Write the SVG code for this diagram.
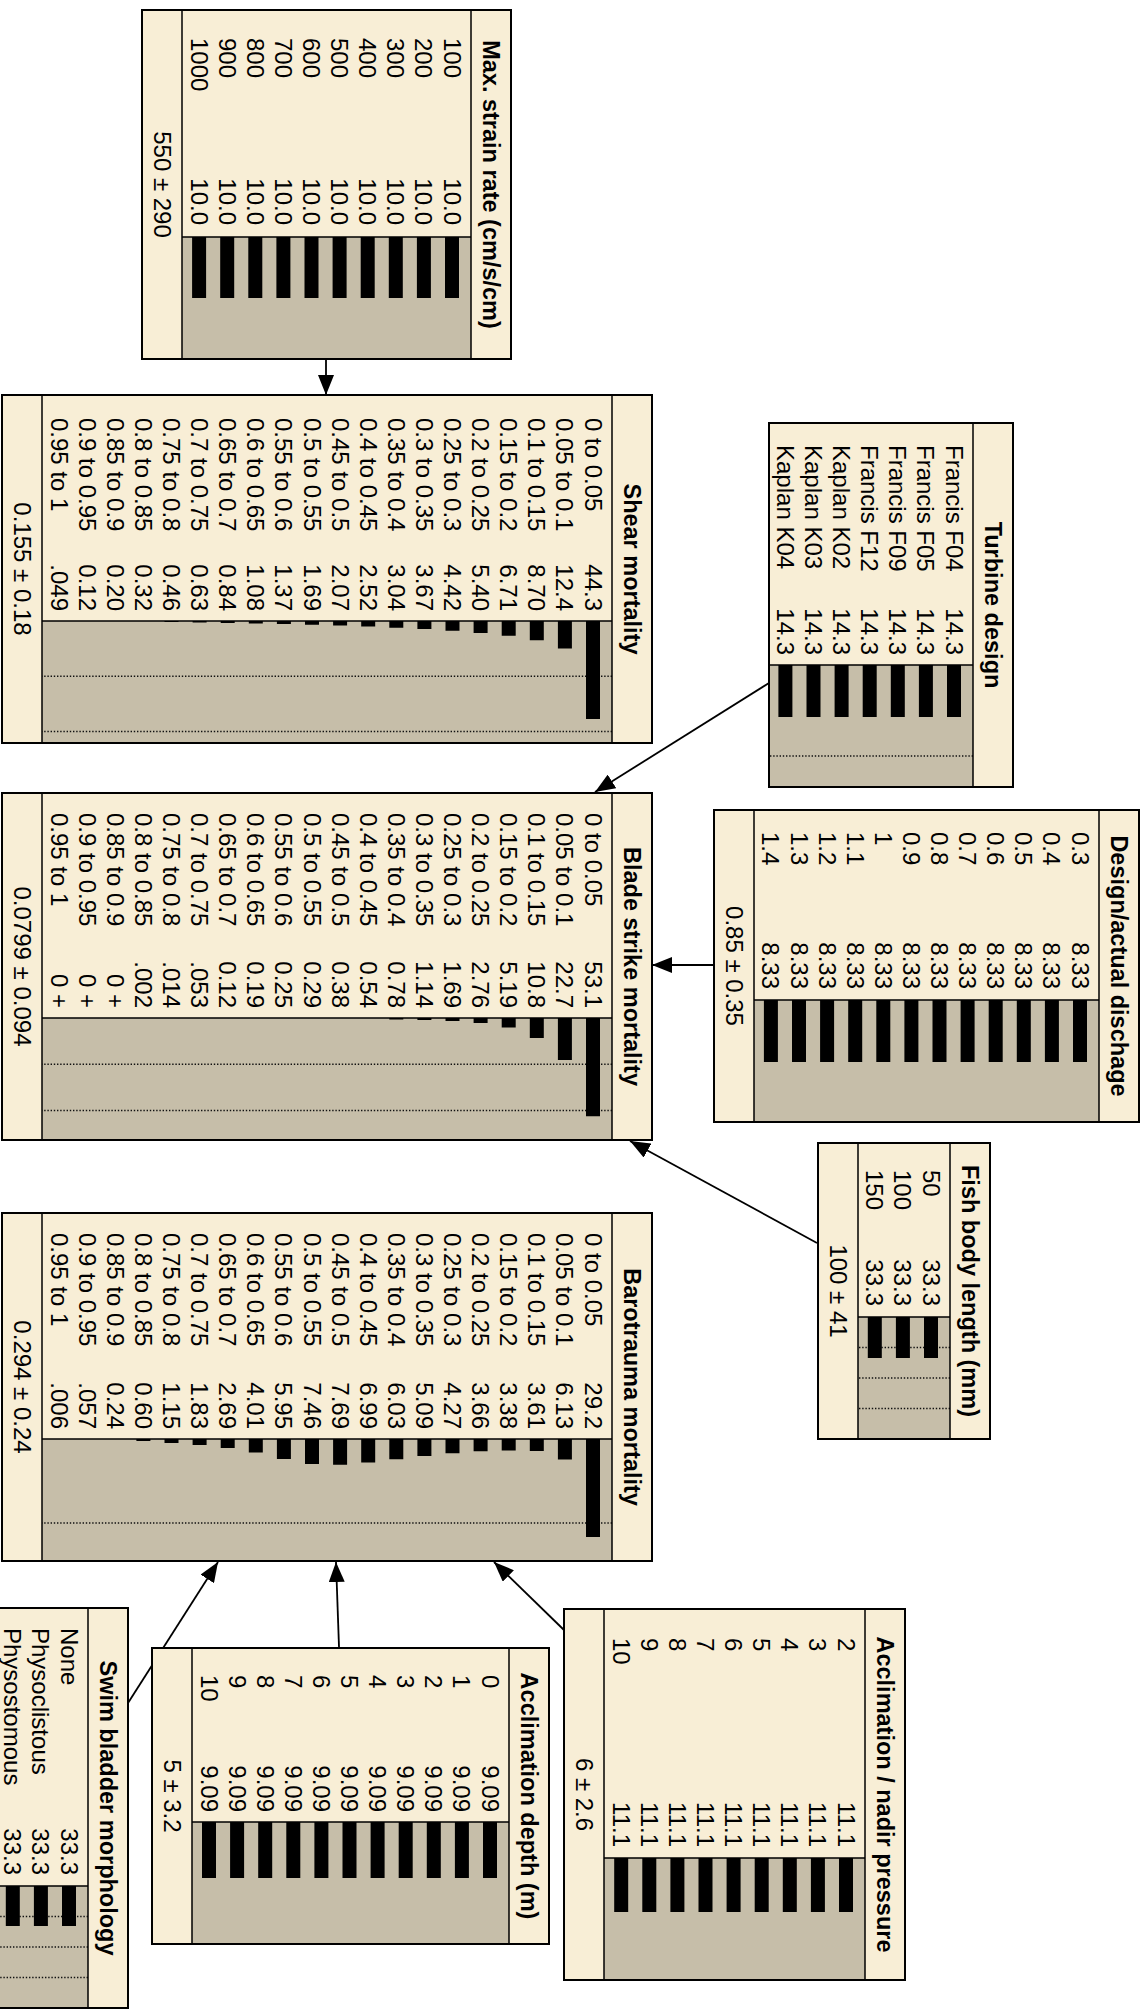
<svg xmlns="http://www.w3.org/2000/svg" width="1147" height="2016" viewBox="0 0 1147 2016">
<style>
.nf{fill:#F8EED6;stroke:none}
.ba{fill:#C6BEA9;stroke:none}
.no{fill:none;stroke:#000;stroke-width:2}
.sep{fill:none;stroke:#000;stroke-width:1.5}
.grid{fill:none;stroke:#111;stroke-width:1.4;stroke-dasharray:1.4 1.8}
.bars{fill:#000}
.t{font-family:"Liberation Sans",Arial,Helvetica,sans-serif;font-size:24px;fill:#000}
.ttl{font-weight:bold;font-size:23.5px;text-anchor:middle}
.v{text-anchor:end}
.m{text-anchor:middle}
.lk{fill:none;stroke:#000;stroke-width:1.8;marker-end:url(#ah)}
</style>
<defs>
<marker id="ah" markerUnits="userSpaceOnUse" markerWidth="20" markerHeight="16" refX="20" refY="8" orient="auto"><path d="M0,0L20,8L0,16z" fill="#000"/></marker>
</defs>
<rect width="1147" height="2016" fill="#fff"/>
<g transform="translate(1147,0) rotate(90)">
<g id="connectors">
<path class="lk" d="M359,821L395,821"/>
<path class="lk" d="M683,378L792,552"/>
<path class="lk" d="M965,433L965,495"/>
<path class="lk" d="M1243,330L1141,517"/>
<path class="lk" d="M1703,1019L1562,929"/>
<path class="lk" d="M1647,808L1562,811"/>
<path class="lk" d="M1630,583L1562,653"/>
</g>

<g id="node-max-strain-rate">
<rect class="nf" x="10" y="636" width="349" height="369"/>
<rect class="ba" x="237" y="676" width="122" height="289"/>
<path class="sep" d="M10,676H359M10,965H359M237,676V965"/>
<path class="bars" d="M237,688h61v14h-61zM237,716.1h61v14h-61zM237,744.2h61v14h-61zM237,772.3h61v14h-61zM237,800.4h61v14h-61zM237,828.5h61v14h-61zM237,856.6h61v14h-61zM237,884.7h61v14h-61zM237,912.8h61v14h-61zM237,940.9h61v14h-61z"/>
<text class="t ttl" x="184.5" y="664">Max. strain rate (cm/s/cm)</text>
<text class="t"><tspan x="38" y="703.5">100</tspan><tspan x="38" dy="28.1">200</tspan><tspan x="38" dy="28.1">300</tspan><tspan x="38" dy="28.1">400</tspan><tspan x="38" dy="28.1">500</tspan><tspan x="38" dy="28.1">600</tspan><tspan x="38" dy="28.1">700</tspan><tspan x="38" dy="28.1">800</tspan><tspan x="38" dy="28.1">900</tspan><tspan x="38" dy="28.1">1000</tspan></text>
<text class="t v"><tspan x="225" y="703.5">10.0</tspan><tspan x="225" dy="28.1">10.0</tspan><tspan x="225" dy="28.1">10.0</tspan><tspan x="225" dy="28.1">10.0</tspan><tspan x="225" dy="28.1">10.0</tspan><tspan x="225" dy="28.1">10.0</tspan><tspan x="225" dy="28.1">10.0</tspan><tspan x="225" dy="28.1">10.0</tspan><tspan x="225" dy="28.1">10.0</tspan><tspan x="225" dy="28.1">10.0</tspan></text>
<text class="t m" x="184.5" y="993.5">550 ± 290</text>
<rect class="no" x="10" y="636" width="349" height="369"/>
</g>

<g id="node-shear-mortality">
<rect class="nf" x="395" y="495" width="348" height="650"/>
<rect class="ba" x="621" y="535" width="122" height="570"/>
<path class="grid" d="M676.25,535V1105M731.5,535V1105"/>
<path class="sep" d="M395,535H743M395,1105H743M621,535V1105"/>
<path class="bars" d="M621,547h97.9v14h-97.9zM621,575.1h27.4v14h-27.4zM621,603.2h19.2v14h-19.2zM621,631.3h14.8v14h-14.8zM621,659.4h11.9v14h-11.9zM621,687.5h9.8v14h-9.8zM621,715.6h8.1v14h-8.1zM621,743.7h6.7v14h-6.7zM621,771.8h5.6v14h-5.6zM621,799.9h4.6v14h-4.6zM621,828h3.7v14h-3.7zM621,856.1h3v14h-3zM621,884.2h2.4v14h-2.4zM621,912.3h1.9v14h-1.9zM621,940.4h1.4v14h-1.4zM621,968.5h1v14h-1z"/>
<text class="t ttl" x="569" y="523">Shear mortality</text>
<text class="t"><tspan x="418" y="562.5">0 to 0.05</tspan><tspan x="418" dy="28.1">0.05 to 0.1</tspan><tspan x="418" dy="28.1">0.1 to 0.15</tspan><tspan x="418" dy="28.1">0.15 to 0.2</tspan><tspan x="418" dy="28.1">0.2 to 0.25</tspan><tspan x="418" dy="28.1">0.25 to 0.3</tspan><tspan x="418" dy="28.1">0.3 to 0.35</tspan><tspan x="418" dy="28.1">0.35 to 0.4</tspan><tspan x="418" dy="28.1">0.4 to 0.45</tspan><tspan x="418" dy="28.1">0.45 to 0.5</tspan><tspan x="418" dy="28.1">0.5 to 0.55</tspan><tspan x="418" dy="28.1">0.55 to 0.6</tspan><tspan x="418" dy="28.1">0.6 to 0.65</tspan><tspan x="418" dy="28.1">0.65 to 0.7</tspan><tspan x="418" dy="28.1">0.7 to 0.75</tspan><tspan x="418" dy="28.1">0.75 to 0.8</tspan><tspan x="418" dy="28.1">0.8 to 0.85</tspan><tspan x="418" dy="28.1">0.85 to 0.9</tspan><tspan x="418" dy="28.1">0.9 to 0.95</tspan><tspan x="418" dy="28.1">0.95 to 1</tspan></text>
<text class="t v"><tspan x="611" y="562.5">44.3</tspan><tspan x="611" dy="28.1">12.4</tspan><tspan x="611" dy="28.1">8.70</tspan><tspan x="611" dy="28.1">6.71</tspan><tspan x="611" dy="28.1">5.40</tspan><tspan x="611" dy="28.1">4.42</tspan><tspan x="611" dy="28.1">3.67</tspan><tspan x="611" dy="28.1">3.04</tspan><tspan x="611" dy="28.1">2.52</tspan><tspan x="611" dy="28.1">2.07</tspan><tspan x="611" dy="28.1">1.69</tspan><tspan x="611" dy="28.1">1.37</tspan><tspan x="611" dy="28.1">1.08</tspan><tspan x="611" dy="28.1">0.84</tspan><tspan x="611" dy="28.1">0.63</tspan><tspan x="611" dy="28.1">0.46</tspan><tspan x="611" dy="28.1">0.32</tspan><tspan x="611" dy="28.1">0.20</tspan><tspan x="611" dy="28.1">0.12</tspan><tspan x="611" dy="28.1">.049</tspan></text>
<text class="t m" x="569" y="1133.5">0.155 ± 0.18</text>
<rect class="no" x="395" y="495" width="348" height="650"/>
</g>

<g id="node-turbine-design">
<rect class="nf" x="423" y="134" width="364" height="244"/>
<rect class="ba" x="665" y="174" width="122" height="204"/>
<path class="grid" d="M756,174V378"/>
<path class="sep" d="M423,174H787M665,174V378"/>
<path class="bars" d="M665,186h52v14h-52zM665,214.1h52v14h-52zM665,242.2h52v14h-52zM665,270.3h52v14h-52zM665,298.4h52v14h-52zM665,326.5h52v14h-52zM665,354.6h52v14h-52z"/>
<text class="t ttl" x="605" y="162">Turbine design</text>
<text class="t"><tspan x="445" y="201.5">Francis F04</tspan><tspan x="445" dy="28.1">Francis F05</tspan><tspan x="445" dy="28.1">Francis F09</tspan><tspan x="445" dy="28.1">Francis F12</tspan><tspan x="445" dy="28.1">Kaplan K02</tspan><tspan x="445" dy="28.1">Kaplan K03</tspan><tspan x="445" dy="28.1">Kaplan K04</tspan></text>
<text class="t v"><tspan x="655" y="201.5">14.3</tspan><tspan x="655" dy="28.1">14.3</tspan><tspan x="655" dy="28.1">14.3</tspan><tspan x="655" dy="28.1">14.3</tspan><tspan x="655" dy="28.1">14.3</tspan><tspan x="655" dy="28.1">14.3</tspan><tspan x="655" dy="28.1">14.3</tspan></text>
<rect class="no" x="423" y="134" width="364" height="244"/>
</g>

<g id="node-design-actual-dischage">
<rect class="nf" x="810" y="8" width="312" height="425"/>
<rect class="ba" x="1000" y="48" width="122" height="345"/>
<path class="sep" d="M810,48H1122M810,393H1122M1000,48V393"/>
<path class="bars" d="M1000,60h62v14h-62zM1000,88.1h62v14h-62zM1000,116.2h62v14h-62zM1000,144.3h62v14h-62zM1000,172.4h62v14h-62zM1000,200.5h62v14h-62zM1000,228.6h62v14h-62zM1000,256.7h62v14h-62zM1000,284.8h62v14h-62zM1000,312.9h62v14h-62zM1000,341h62v14h-62zM1000,369.1h62v14h-62z"/>
<text class="t ttl" x="966" y="36">Design/actual dischage</text>
<text class="t"><tspan x="832" y="75.5">0.3</tspan><tspan x="832" dy="28.1">0.4</tspan><tspan x="832" dy="28.1">0.5</tspan><tspan x="832" dy="28.1">0.6</tspan><tspan x="832" dy="28.1">0.7</tspan><tspan x="832" dy="28.1">0.8</tspan><tspan x="832" dy="28.1">0.9</tspan><tspan x="832" dy="28.1">1</tspan><tspan x="832" dy="28.1">1.1</tspan><tspan x="832" dy="28.1">1.2</tspan><tspan x="832" dy="28.1">1.3</tspan><tspan x="832" dy="28.1">1.4</tspan></text>
<text class="t v"><tspan x="989" y="75.5">8.33</tspan><tspan x="989" dy="28.1">8.33</tspan><tspan x="989" dy="28.1">8.33</tspan><tspan x="989" dy="28.1">8.33</tspan><tspan x="989" dy="28.1">8.33</tspan><tspan x="989" dy="28.1">8.33</tspan><tspan x="989" dy="28.1">8.33</tspan><tspan x="989" dy="28.1">8.33</tspan><tspan x="989" dy="28.1">8.33</tspan><tspan x="989" dy="28.1">8.33</tspan><tspan x="989" dy="28.1">8.33</tspan><tspan x="989" dy="28.1">8.33</tspan></text>
<text class="t m" x="966" y="421.5">0.85 ± 0.35</text>
<rect class="no" x="810" y="8" width="312" height="425"/>
</g>

<g id="node-blade-strike-mortality">
<rect class="nf" x="793" y="495" width="347" height="650"/>
<rect class="ba" x="1018" y="535" width="122" height="570"/>
<path class="grid" d="M1064.25,535V1105M1110.5,535V1105"/>
<path class="sep" d="M793,535H1140M793,1105H1140M1018,535V1105"/>
<path class="bars" d="M1018,547h98.2v14h-98.2zM1018,575.1h42v14h-42zM1018,603.2h20v14h-20zM1018,631.3h9.6v14h-9.6zM1018,659.4h5.1v14h-5.1zM1018,687.5h3.1v14h-3.1zM1018,715.6h2.1v14h-2.1zM1018,743.7h1.4v14h-1.4z"/>
<text class="t ttl" x="966.5" y="523">Blade strike mortality</text>
<text class="t"><tspan x="813" y="562.5">0 to 0.05</tspan><tspan x="813" dy="28.1">0.05 to 0.1</tspan><tspan x="813" dy="28.1">0.1 to 0.15</tspan><tspan x="813" dy="28.1">0.15 to 0.2</tspan><tspan x="813" dy="28.1">0.2 to 0.25</tspan><tspan x="813" dy="28.1">0.25 to 0.3</tspan><tspan x="813" dy="28.1">0.3 to 0.35</tspan><tspan x="813" dy="28.1">0.35 to 0.4</tspan><tspan x="813" dy="28.1">0.4 to 0.45</tspan><tspan x="813" dy="28.1">0.45 to 0.5</tspan><tspan x="813" dy="28.1">0.5 to 0.55</tspan><tspan x="813" dy="28.1">0.55 to 0.6</tspan><tspan x="813" dy="28.1">0.6 to 0.65</tspan><tspan x="813" dy="28.1">0.65 to 0.7</tspan><tspan x="813" dy="28.1">0.7 to 0.75</tspan><tspan x="813" dy="28.1">0.75 to 0.8</tspan><tspan x="813" dy="28.1">0.8 to 0.85</tspan><tspan x="813" dy="28.1">0.85 to 0.9</tspan><tspan x="813" dy="28.1">0.9 to 0.95</tspan><tspan x="813" dy="28.1">0.95 to 1</tspan></text>
<text class="t v"><tspan x="1008" y="562.5">53.1</tspan><tspan x="1008" dy="28.1">22.7</tspan><tspan x="1008" dy="28.1">10.8</tspan><tspan x="1008" dy="28.1">5.19</tspan><tspan x="1008" dy="28.1">2.76</tspan><tspan x="1008" dy="28.1">1.69</tspan><tspan x="1008" dy="28.1">1.14</tspan><tspan x="1008" dy="28.1">0.78</tspan><tspan x="1008" dy="28.1">0.54</tspan><tspan x="1008" dy="28.1">0.38</tspan><tspan x="1008" dy="28.1">0.29</tspan><tspan x="1008" dy="28.1">0.25</tspan><tspan x="1008" dy="28.1">0.19</tspan><tspan x="1008" dy="28.1">0.12</tspan><tspan x="1008" dy="28.1">.053</tspan><tspan x="1008" dy="28.1">.014</tspan><tspan x="1008" dy="28.1">.002</tspan><tspan x="1008" dy="28.1">0 +</tspan><tspan x="1008" dy="28.1">0 +</tspan><tspan x="1008" dy="28.1">0 +</tspan></text>
<text class="t m" x="966.5" y="1133.5">0.0799 ± 0.094</text>
<rect class="no" x="793" y="495" width="347" height="650"/>
</g>

<g id="node-fish-body-length">
<rect class="nf" x="1143" y="157" width="296" height="172"/>
<rect class="ba" x="1317" y="197" width="122" height="92"/>
<path class="grid" d="M1347.5,197V289M1378,197V289M1408.5,197V289"/>
<path class="sep" d="M1143,197H1439M1143,289H1439M1317,197V289"/>
<path class="bars" d="M1317,209h41v14h-41zM1317,237.1h41v14h-41zM1317,265.2h41v14h-41z"/>
<text class="t ttl" x="1291" y="185">Fish body length (mm)</text>
<text class="t"><tspan x="1170" y="224.5">50</tspan><tspan x="1170" dy="28.1">100</tspan><tspan x="1170" dy="28.1">150</tspan></text>
<text class="t v"><tspan x="1306" y="224.5">33.3</tspan><tspan x="1306" dy="28.1">33.3</tspan><tspan x="1306" dy="28.1">33.3</tspan></text>
<text class="t m" x="1291" y="317.5">100 ± 41</text>
<rect class="no" x="1143" y="157" width="296" height="172"/>
</g>

<g id="node-barotrauma-mortality">
<rect class="nf" x="1213" y="495" width="348" height="650"/>
<rect class="ba" x="1439" y="535" width="122" height="570"/>
<path class="grid" d="M1523,535V1105"/>
<path class="sep" d="M1213,535H1561M1213,1105H1561M1439,535V1105"/>
<path class="bars" d="M1439,547h98.1v14h-98.1zM1439,575.1h20.6v14h-20.6zM1439,603.2h12.1v14h-12.1zM1439,631.3h11.4v14h-11.4zM1439,659.4h12.3v14h-12.3zM1439,687.5h14.3v14h-14.3zM1439,715.6h17.1v14h-17.1zM1439,743.7h20.3v14h-20.3zM1439,771.8h23.5v14h-23.5zM1439,799.9h25.8v14h-25.8zM1439,828h25.1v14h-25.1zM1439,856.1h20v14h-20zM1439,884.2h13.5v14h-13.5zM1439,912.3h9v14h-9zM1439,940.4h6.1v14h-6.1zM1439,968.5h3.9v14h-3.9zM1439,996.6h2v14h-2z"/>
<text class="t ttl" x="1387" y="523">Barotrauma mortality</text>
<text class="t"><tspan x="1233" y="562.5">0 to 0.05</tspan><tspan x="1233" dy="28.1">0.05 to 0.1</tspan><tspan x="1233" dy="28.1">0.1 to 0.15</tspan><tspan x="1233" dy="28.1">0.15 to 0.2</tspan><tspan x="1233" dy="28.1">0.2 to 0.25</tspan><tspan x="1233" dy="28.1">0.25 to 0.3</tspan><tspan x="1233" dy="28.1">0.3 to 0.35</tspan><tspan x="1233" dy="28.1">0.35 to 0.4</tspan><tspan x="1233" dy="28.1">0.4 to 0.45</tspan><tspan x="1233" dy="28.1">0.45 to 0.5</tspan><tspan x="1233" dy="28.1">0.5 to 0.55</tspan><tspan x="1233" dy="28.1">0.55 to 0.6</tspan><tspan x="1233" dy="28.1">0.6 to 0.65</tspan><tspan x="1233" dy="28.1">0.65 to 0.7</tspan><tspan x="1233" dy="28.1">0.7 to 0.75</tspan><tspan x="1233" dy="28.1">0.75 to 0.8</tspan><tspan x="1233" dy="28.1">0.8 to 0.85</tspan><tspan x="1233" dy="28.1">0.85 to 0.9</tspan><tspan x="1233" dy="28.1">0.9 to 0.95</tspan><tspan x="1233" dy="28.1">0.95 to 1</tspan></text>
<text class="t v"><tspan x="1429" y="562.5">29.2</tspan><tspan x="1429" dy="28.1">6.13</tspan><tspan x="1429" dy="28.1">3.61</tspan><tspan x="1429" dy="28.1">3.38</tspan><tspan x="1429" dy="28.1">3.66</tspan><tspan x="1429" dy="28.1">4.27</tspan><tspan x="1429" dy="28.1">5.09</tspan><tspan x="1429" dy="28.1">6.03</tspan><tspan x="1429" dy="28.1">6.99</tspan><tspan x="1429" dy="28.1">7.69</tspan><tspan x="1429" dy="28.1">7.46</tspan><tspan x="1429" dy="28.1">5.95</tspan><tspan x="1429" dy="28.1">4.01</tspan><tspan x="1429" dy="28.1">2.69</tspan><tspan x="1429" dy="28.1">1.83</tspan><tspan x="1429" dy="28.1">1.15</tspan><tspan x="1429" dy="28.1">0.60</tspan><tspan x="1429" dy="28.1">0.24</tspan><tspan x="1429" dy="28.1">.057</tspan><tspan x="1429" dy="28.1">.006</tspan></text>
<text class="t m" x="1387" y="1133.5">0.294 ± 0.24</text>
<rect class="no" x="1213" y="495" width="348" height="650"/>
</g>

<g id="node-swim-bladder-morphology">
<rect class="nf" x="1608" y="1019" width="400" height="132"/>
<rect class="ba" x="1886" y="1059" width="122" height="92"/>
<path class="grid" d="M1916.5,1059V1151M1947,1059V1151M1977.5,1059V1151"/>
<path class="sep" d="M1608,1059H2008M1886,1059V1151"/>
<path class="bars" d="M1886,1071h40v14h-40zM1886,1099.1h40v14h-40zM1886,1127.2h40v14h-40z"/>
<text class="t ttl" x="1808" y="1047">Swim bladder morphology</text>
<text class="t"><tspan x="1628" y="1086.5">None</tspan><tspan x="1628" dy="28.1">Physoclistous</tspan><tspan x="1628" dy="28.1">Physostomous</tspan></text>
<text class="t v"><tspan x="1875" y="1086.5">33.3</tspan><tspan x="1875" dy="28.1">33.3</tspan><tspan x="1875" dy="28.1">33.3</tspan></text>
<rect class="no" x="1608" y="1019" width="400" height="132"/>
</g>

<g id="node-acclimation-depth">
<rect class="nf" x="1648" y="598" width="296" height="397"/>
<rect class="ba" x="1822" y="638" width="122" height="317"/>
<path class="sep" d="M1648,638H1944M1648,955H1944M1822,638V955"/>
<path class="bars" d="M1822,650h56v14h-56zM1822,678.1h56v14h-56zM1822,706.2h56v14h-56zM1822,734.3h56v14h-56zM1822,762.4h56v14h-56zM1822,790.5h56v14h-56zM1822,818.6h56v14h-56zM1822,846.7h56v14h-56zM1822,874.8h56v14h-56zM1822,902.9h56v14h-56zM1822,931h56v14h-56z"/>
<text class="t ttl" x="1796" y="626">Acclimation depth (m)</text>
<text class="t"><tspan x="1675" y="665.5">0</tspan><tspan x="1675" dy="28.1">1</tspan><tspan x="1675" dy="28.1">2</tspan><tspan x="1675" dy="28.1">3</tspan><tspan x="1675" dy="28.1">4</tspan><tspan x="1675" dy="28.1">5</tspan><tspan x="1675" dy="28.1">6</tspan><tspan x="1675" dy="28.1">7</tspan><tspan x="1675" dy="28.1">8</tspan><tspan x="1675" dy="28.1">9</tspan><tspan x="1675" dy="28.1">10</tspan></text>
<text class="t v"><tspan x="1812" y="665.5">9.09</tspan><tspan x="1812" dy="28.1">9.09</tspan><tspan x="1812" dy="28.1">9.09</tspan><tspan x="1812" dy="28.1">9.09</tspan><tspan x="1812" dy="28.1">9.09</tspan><tspan x="1812" dy="28.1">9.09</tspan><tspan x="1812" dy="28.1">9.09</tspan><tspan x="1812" dy="28.1">9.09</tspan><tspan x="1812" dy="28.1">9.09</tspan><tspan x="1812" dy="28.1">9.09</tspan><tspan x="1812" dy="28.1">9.09</tspan></text>
<text class="t m" x="1796" y="983.5">5 ± 3.2</text>
<rect class="no" x="1648" y="598" width="296" height="397"/>
</g>

<g id="node-acclimation-nadir-pressure">
<rect class="nf" x="1609" y="242" width="371" height="341"/>
<rect class="ba" x="1858" y="282" width="122" height="261"/>
<path class="sep" d="M1609,282H1980M1609,543H1980M1858,282V543"/>
<path class="bars" d="M1858,294h54v14h-54zM1858,322.1h54v14h-54zM1858,350.2h54v14h-54zM1858,378.3h54v14h-54zM1858,406.4h54v14h-54zM1858,434.5h54v14h-54zM1858,462.6h54v14h-54zM1858,490.7h54v14h-54zM1858,518.8h54v14h-54z"/>
<text class="t ttl" x="1794.5" y="270">Acclimation / nadir pressure</text>
<text class="t"><tspan x="1638" y="309.5">2</tspan><tspan x="1638" dy="28.1">3</tspan><tspan x="1638" dy="28.1">4</tspan><tspan x="1638" dy="28.1">5</tspan><tspan x="1638" dy="28.1">6</tspan><tspan x="1638" dy="28.1">7</tspan><tspan x="1638" dy="28.1">8</tspan><tspan x="1638" dy="28.1">9</tspan><tspan x="1638" dy="28.1">10</tspan></text>
<text class="t v"><tspan x="1847" y="309.5">11.1</tspan><tspan x="1847" dy="28.1">11.1</tspan><tspan x="1847" dy="28.1">11.1</tspan><tspan x="1847" dy="28.1">11.1</tspan><tspan x="1847" dy="28.1">11.1</tspan><tspan x="1847" dy="28.1">11.1</tspan><tspan x="1847" dy="28.1">11.1</tspan><tspan x="1847" dy="28.1">11.1</tspan><tspan x="1847" dy="28.1">11.1</tspan></text>
<text class="t m" x="1794.5" y="571.5">6 ± 2.6</text>
<rect class="no" x="1609" y="242" width="371" height="341"/>
</g>
</g>
</svg>
